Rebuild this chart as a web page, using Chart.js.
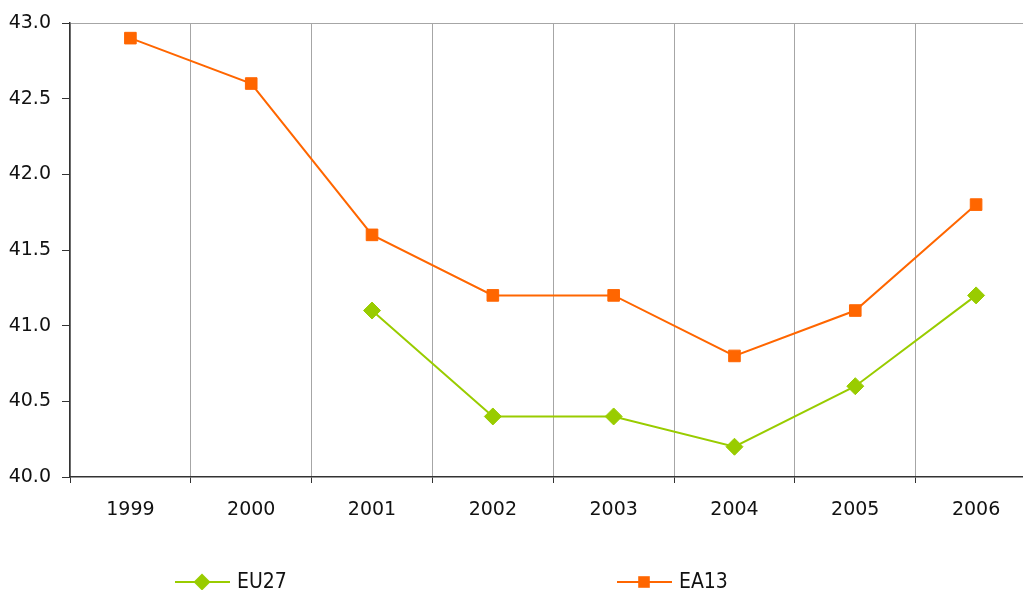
<!DOCTYPE html>
<html>
<head>
<meta charset="utf-8">
<script src="https://cdn.jsdelivr.net/npm/chart.js@4/dist/chart.umd.min.js"></script>
<style>
  html, body { margin: 0; padding: 0; background: #ffffff; overflow: hidden; }
  #wrap { position: relative; width: 1046px; height: 590px; }
</style>
</head>
<body>
<div id="wrap"><canvas id="chart" width="1046" height="590"></canvas></div>
<script>
// Years on the category axis
const years = ['1999', '2000', '2001', '2002', '2003', '2004', '2005', '2006'];
// Series values
const eu27 = [null, null, 41.1, 40.4, 40.4, 40.2, 40.6, 41.2];
const ea13 = [42.9, 42.6, 41.6, 41.2, 41.2, 40.8, 41.1, 41.8];
// Value-axis range and step
const yMin = 40.0;
const yMax = 43.0;
const yStep = 0.5;

const GREEN = '#99cc00';
const ORANGE = '#ff6600';
const FONT = '"DejaVu Sans", Verdana, sans-serif';

// Legend drawn below the plot: line segment with the series marker in its middle
const bottomLegend = {
  id: 'bottomLegend',
  afterDraw(chart) {
    const ctx = chart.ctx;
    const items = [
      { ds: chart.data.datasets[0], x: 175 },
      { ds: chart.data.datasets[1], x: 617 }
    ];
    const y = 582;
    ctx.save();
    items.forEach(it => {
      const ds = it.ds;
      const cx = it.x + 27;
      ctx.strokeStyle = ds.borderColor;
      ctx.lineWidth = 2;
      ctx.beginPath();
      ctx.moveTo(it.x, y);
      ctx.lineTo(it.x + 55, y);
      ctx.stroke();
      ctx.fillStyle = ds.pointBackgroundColor;
      ctx.beginPath();
      if (ds.pointStyle === 'rectRot') {
        const r = ds.pointRadius;
        ctx.moveTo(cx, y - r);
        ctx.lineTo(cx + r, y);
        ctx.lineTo(cx, y + r);
        ctx.lineTo(cx - r, y);
        ctx.closePath();
      } else {
        const s = ds.pointRadius * Math.SQRT1_2;
        ctx.rect(cx - s, y - s, 2 * s, 2 * s);
      }
      ctx.fill();
      ctx.font = '21px "DejaVu Sans Condensed", "DejaVu Sans", sans-serif';
      ctx.fillStyle = '#111111';
      ctx.textBaseline = 'middle';
      ctx.textAlign = 'left';
      ctx.fillText(ds.label, it.x + 62, y + 1);
    });
    ctx.restore();
  }
};

new Chart(document.getElementById('chart'), {
  type: 'line',
  data: {
    labels: years,
    datasets: [
      {
        label: 'EU27',
        data: eu27,
        borderColor: GREEN,
        backgroundColor: GREEN,
        pointBackgroundColor: GREEN,
        pointBorderColor: GREEN,
        pointStyle: 'rectRot',
        pointRadius: 8.5,
        pointBorderWidth: 1,
        borderWidth: 2,
        tension: 0
      },
      {
        label: 'EA13',
        data: ea13,
        borderColor: ORANGE,
        backgroundColor: ORANGE,
        pointBackgroundColor: ORANGE,
        pointBorderColor: ORANGE,
        pointStyle: 'rect',
        pointRadius: 8.2,
        pointBorderWidth: 1,
        borderWidth: 2,
        tension: 0
      }
    ]
  },
  options: {
    responsive: false,
    maintainAspectRatio: false,
    animation: false,
    layout: { padding: { top: 23, right: 5, bottom: 0, left: 0 } },
    plugins: {
      legend: { display: false },
      tooltip: { enabled: false }
    },
    scales: {
      x: {
        type: 'category',
        offset: true,
        afterFit(scale) { scale.height = 113; },
        grid: {
          display: true,
          offset: true,
          drawOnChartArea: true,
          color: '#a6a6a6',
          lineWidth: 1,
          drawTicks: true,
          tickLength: 6,
          tickColor: '#333333'
        },
        border: { display: true, color: '#333333', width: 1.5 },
        ticks: {
          color: '#111111',
          font: { family: FONT, size: 19 },
          padding: 16,
          maxRotation: 0
        }
      },
      y: {
        min: yMin,
        max: yMax,
        afterFit(scale) { scale.width = 70; },
        grid: {
          display: true,
          drawOnChartArea: true,
          color: ctx => (ctx.tick && ctx.tick.value === yMax) ? '#a6a6a6' : 'rgba(0,0,0,0)',
          lineWidth: 1,
          drawTicks: true,
          tickLength: 8,
          tickColor: '#333333'
        },
        border: { display: true, color: '#333333', width: 1.5 },
        ticks: {
          stepSize: yStep,
          color: '#111111',
          font: { family: FONT, size: 19 },
          padding: 11,
          callback: v => Number(v).toFixed(1)
        }
      }
    }
  },
  plugins: [bottomLegend]
});
</script>
</body>
</html>
